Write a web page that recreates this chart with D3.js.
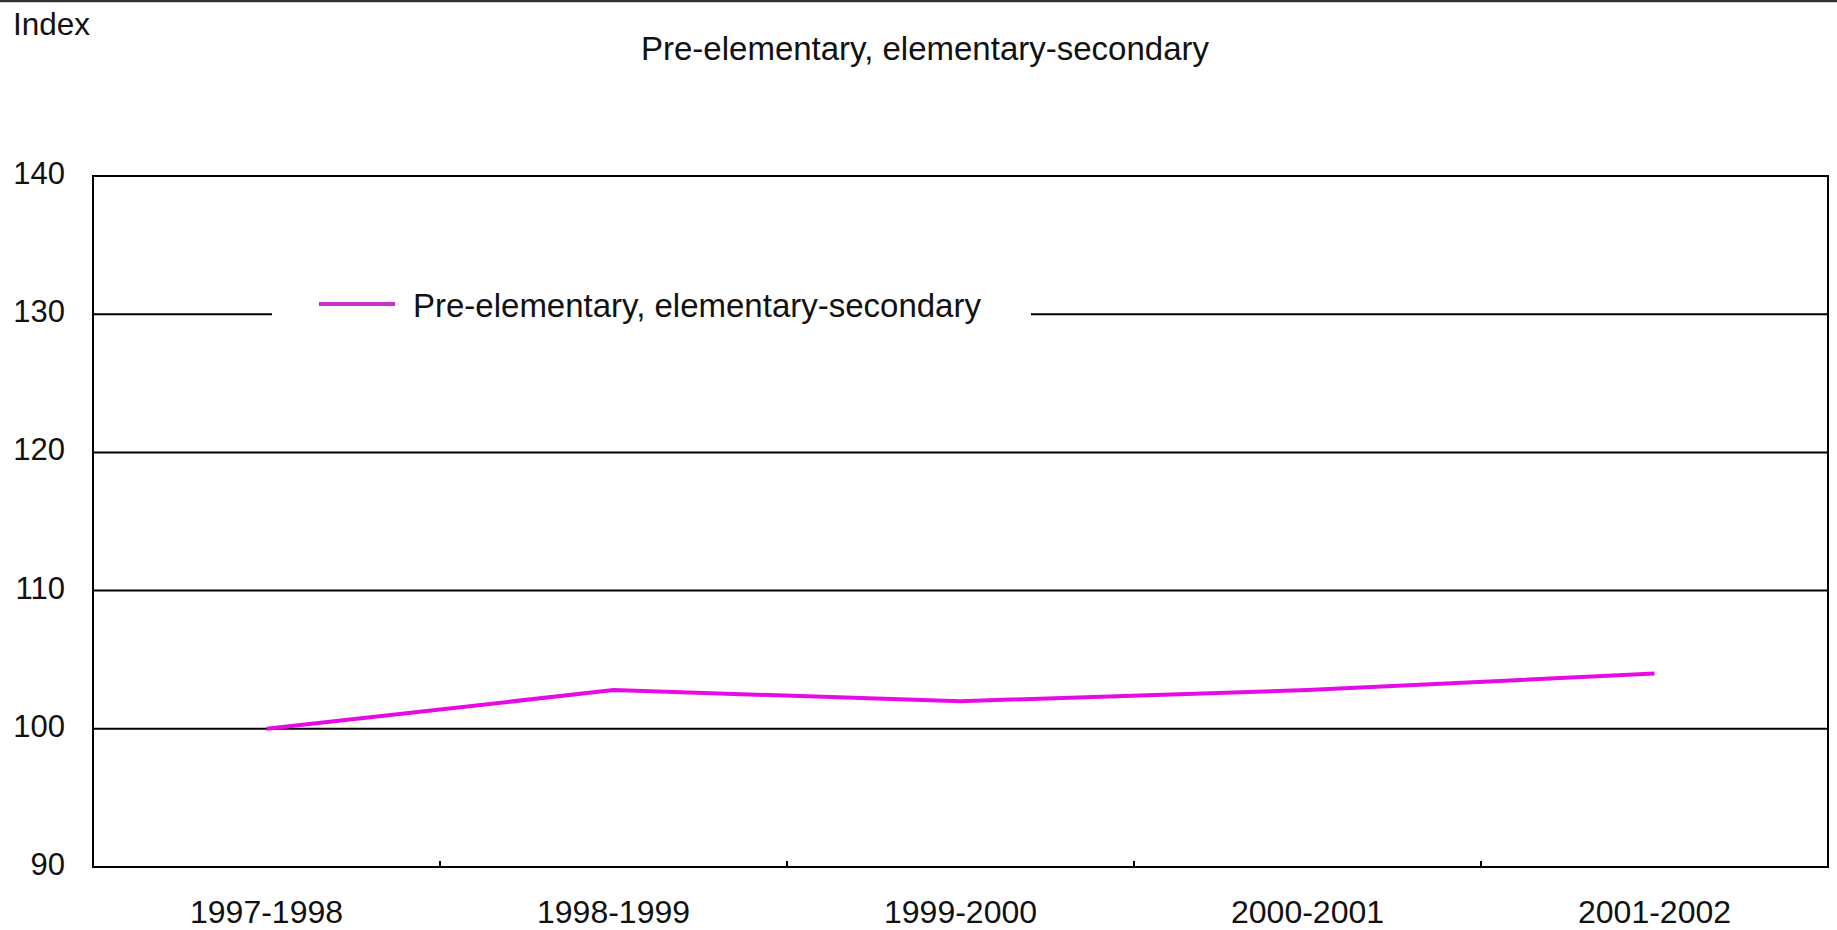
<!DOCTYPE html>
<html>
<head>
<meta charset="utf-8">
<script src="https://cdn.jsdelivr.net/npm/d3@7"></script>
<style>
  html, body { margin: 0; padding: 0; background: #fff; }
  svg { display: block; }
  text { font-family: "Liberation Sans", Arial, sans-serif; fill: #111; }
</style>
</head>
<body>
<svg id="chart" width="1837" height="930"></svg>
<script>
// ---- data ----
const categories = ["1997-1998", "1998-1999", "1999-2000", "2000-2001", "2001-2002"];
const values = [100.0, 102.8, 102.0, 102.8, 104.0];
const yTicks = [90, 100, 110, 120, 130, 140];
const seriesName = "Pre-elementary, elementary-secondary";
const titleText = "Pre-elementary, elementary-secondary";
const yUnit = "Index";

// ---- layout ----
const W = 1837, H = 930;
const plot = { left: 93, right: 1828, top: 176, bottom: 867 };

const svg = d3.select("#chart");

const x = d3.scaleBand().domain(categories).range([plot.left, plot.right]).padding(0);
const y = d3.scaleLinear().domain([90, 140]).range([plot.bottom, plot.top]);
const cx = c => x(c) + x.bandwidth() / 2;

// top border
svg.append("line").attr("x1", 0).attr("x2", W).attr("y1", 1).attr("y2", 1)
  .attr("stroke", "#333").attr("stroke-width", 2.5);

// title & unit
svg.append("text").attr("x", 13).attr("y", 35).attr("font-size", 31.5).text(yUnit);
svg.append("text").attr("x", 925).attr("y", 60).attr("text-anchor", "middle")
  .attr("font-size", 33).text(titleText);

// gridlines
svg.append("g").selectAll("line").data(yTicks.filter(t => t > 90 && t < 140)).join("line")
  .attr("x1", plot.left).attr("x2", plot.right)
  .attr("y1", d => y(d)).attr("y2", d => y(d))
  .attr("stroke", "#000").attr("stroke-width", 2);

// y tick labels
svg.append("g").selectAll("text").data(yTicks).join("text")
  .attr("x", 65).attr("y", d => y(d) + 8)
  .attr("text-anchor", "end").attr("font-size", 31).text(d => d);

// x ticks (category boundaries, inward)
svg.append("g").selectAll("line").data(categories.slice(1)).join("line")
  .attr("x1", d => x(d)).attr("x2", d => x(d))
  .attr("y1", plot.bottom).attr("y2", plot.bottom - 6)
  .attr("stroke", "#000").attr("stroke-width", 2);

// x labels
svg.append("g").selectAll("text").data(categories).join("text")
  .attr("x", d => cx(d)).attr("y", 923)
  .attr("text-anchor", "middle").attr("font-size", 32).text(d => d);

// legend box (covers gridline)
const lg = svg.append("g");
lg.append("rect").attr("x", 272).attr("y", 288).attr("width", 759).attr("height", 42).attr("fill", "#fff");
lg.append("line").attr("x1", 319).attr("x2", 395).attr("y1", 304).attr("y2", 304)
  .attr("stroke", "#c533c8").attr("stroke-width", 4);
lg.append("text").attr("x", 413).attr("y", 317).attr("font-size", 33).text(seriesName);

// series line
const line = d3.line().x((d, i) => cx(categories[i])).y(d => y(d));
svg.append("path").datum(values).attr("d", line)
  .attr("fill", "none").attr("stroke", "#e60ae6").attr("stroke-width", 4);

// frame
svg.append("rect").attr("x", plot.left).attr("y", plot.top)
  .attr("width", plot.right - plot.left).attr("height", plot.bottom - plot.top)
  .attr("fill", "none").attr("stroke", "#000").attr("stroke-width", 2);
</script>
</body>
</html>
